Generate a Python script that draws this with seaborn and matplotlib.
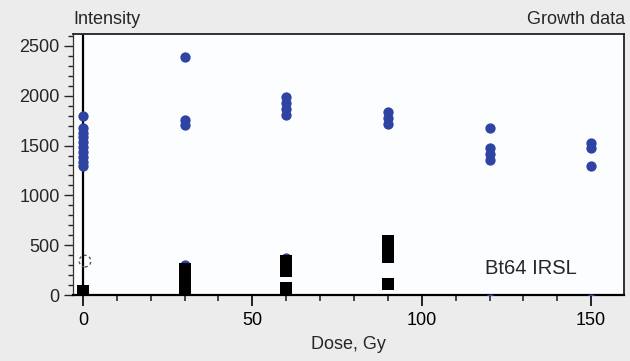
import matplotlib
matplotlib.use("Agg")
import matplotlib.pyplot as plt
import seaborn as sns
import pandas as pd
from matplotlib.ticker import MultipleLocator

# Intensity (blue circles)
blue_dose = [0, 0, 0, 0, 0, 0, 0, 0, 0, 0,
             30, 30, 30, 30,
             60, 60, 60, 60, 60,
             90, 90, 90,
             120, 120, 120, 120, 120,
             150, 150, 150, 150]
blue_val = [1800, 1680, 1630, 1590, 1540, 1490, 1440, 1390, 1340, 1290,
            2390, 1760, 1710, 300,
            1990, 1930, 1870, 1810, 370,
            1840, 1780, 1720,
            1680, 1480, 1420, 1360, -40,
            1530, 1480, 1290, -40]

# Second series (black squares)
black_dose = [0, 30, 30, 30, 30, 30, 60, 60, 60, 60, 90, 90, 90, 90, 90]
black_val = [40, 40, 100, 160, 220, 260, 75, 240, 290, 340, 115, 380, 430, 480, 540]

# Open circle
open_dose = [0.6]
open_val = [340]

x_ticks = [0, 50, 100, 150]
y_ticks = [0, 500, 1000, 1500, 2000, 2500]

sns.set_style("white")
plt.rcParams['font.family'] = ["Liberation Sans", "DejaVu Sans"]
fs = 13

fig = plt.figure(figsize=(6.3, 3.61), dpi=100, facecolor="#ececec")
ax = fig.add_axes([73/630, 1 - 295/361, (624 - 73)/630, (295 - 34)/361])
ax.set_facecolor("#fbfdfe")

dfb = pd.DataFrame({"dose": blue_dose, "val": blue_val})
dfk = pd.DataFrame({"dose": black_dose, "val": black_val})

ax.axvline(0, color="black", lw=1.6, zorder=1)
sns.scatterplot(data=dfb, x="dose", y="val", ax=ax, marker="o", s=55,
                color="#2f43a3", linewidth=0, zorder=3)
sns.scatterplot(data=dfk, x="dose", y="val", ax=ax, marker="s", s=72,
                color="black", linewidth=0, zorder=4)
ax.scatter(open_dose, open_val, s=70, facecolors="none", edgecolors="#555566",
           linestyle=(0, (2, 2)), linewidths=1.0, zorder=4)

ax.set_xlim(-2.95, 159.7)
ax.set_ylim(0, 2620)
ax.set_xticks(x_ticks)
ax.set_yticks(y_ticks)
ax.xaxis.set_minor_locator(MultipleLocator(10))
ax.yaxis.set_minor_locator(MultipleLocator(100))
ax.set_xticklabels([str(v) for v in x_ticks])
ax.set_yticklabels([str(v) for v in y_ticks])

ax.tick_params(axis="x", which="major", direction="out", length=8, width=1.2,
               labelsize=fs, pad=4.5, bottom=True, colors="black")
ax.tick_params(axis="x", which="minor", direction="out", length=4, width=1.2, bottom=True)
ax.tick_params(axis="y", which="major", direction="out", length=6.5, width=1.0,
               labelsize=fs, pad=3, left=True)
ax.tick_params(axis="y", which="minor", direction="out", length=3.5, width=1.0, left=True)

for s in ["top", "right"]:
    ax.spines[s].set_visible(True)
    ax.spines[s].set_color("#222222")
    ax.spines[s].set_linewidth(1.3)
ax.spines["left"].set_color("#333333")
ax.spines["left"].set_linewidth(0.9)
ax.spines["bottom"].set_color("black")
ax.spines["bottom"].set_linewidth(1.6)

ax.set_xlabel("Dose, Gy", fontsize=fs)
ax.set_ylabel("")
ax.xaxis.set_label_coords(0.5, -0.158)

ax.text(118.7, 261, "Bt64 IRSL", fontsize=14.5, ha="left", va="center")
fig.text(73/630, 1 - 19/361, "Intensity", fontsize=fs, ha="left", va="center")
fig.text(625/630, 1 - 19/361, "Growth data", fontsize=fs, ha="right", va="center")

fig.savefig("out.png", dpi=100, facecolor=fig.get_facecolor())
